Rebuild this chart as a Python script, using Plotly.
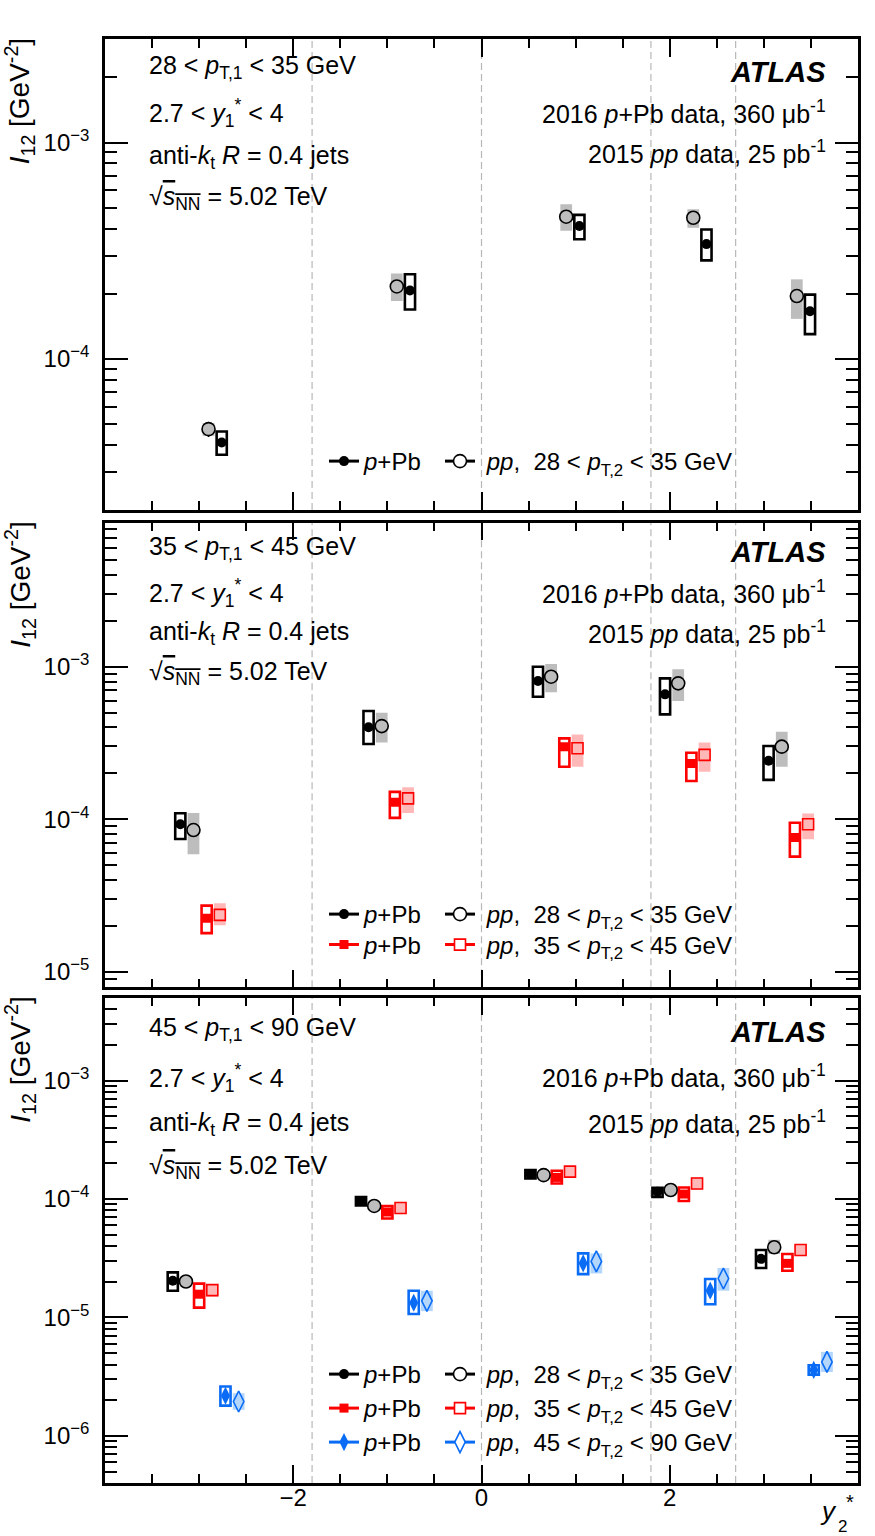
import math
import plotly.graph_objects as go
from plotly.subplots import make_subplots

FONT = "Liberation Sans"
W, H = 875, 1536

# ------------------------------------------------------------------ data
y2_bin_centres = [-2.9, -0.9, 0.9, 2.25, 3.35]
y2_bin_edges = [-1.8, 0.0, 1.8, 2.7]
pt1_lo = [28, 35, 45]
pt1_hi = [35, 45, 90]
pt2_lo = [28, 35, 45]
pt2_hi = [35, 45, 90]

# Panel 1 : 28 < pT,1 < 35 GeV
p1_ppb_28 = [4.10e-5, 2.07e-4, 4.11e-4, 3.39e-4, 1.66e-4]
p1_ppb_28_stat = [1.5e-6, 5e-6, 9e-6, 9e-6, 6e-6]
p1_ppb_28_syshi = [4.61e-5, 2.46e-4, 4.63e-4, 3.96e-4, 1.98e-4]
p1_ppb_28_syslo = [3.60e-5, 1.69e-4, 3.57e-4, 2.85e-4, 1.30e-4]
p1_pp_28 = [4.73e-5, 2.16e-4, 4.54e-4, 4.49e-4, 1.95e-4]
p1_pp_28_stat = [3.8e-6, 4e-6, 7e-6, 7e-6, 5e-6]
p1_pp_28_syshi = [5.05e-5, 2.48e-4, 5.18e-4, 4.91e-4, 2.33e-4]
p1_pp_28_syslo = [4.40e-5, 1.85e-4, 3.91e-4, 4.04e-4, 1.53e-4]

# Panel 2 : 35 < pT,1 < 45 GeV
p2_ppb_28 = [9.26e-5, 4.01e-4, 8.06e-4, 6.59e-4, 2.42e-4]
p2_ppb_28_stat = [4e-6, 1.2e-5, 2e-5, 2e-5, 1e-5]
p2_ppb_28_syshi = [1.094e-4, 5.12e-4, 1.00e-3, 8.39e-4, 3.02e-4]
p2_ppb_28_syslo = [7.41e-5, 3.11e-4, 6.36e-4, 4.87e-4, 1.81e-4]
p2_pp_28 = [8.49e-5, 4.08e-4, 8.60e-4, 7.78e-4, 2.99e-4]
p2_pp_28_stat = [3e-6, 1e-5, 1.5e-5, 1.5e-5, 8e-6]
p2_pp_28_syshi = [1.10e-4, 4.99e-4, 1.04e-3, 9.61e-4, 3.75e-4]
p2_pp_28_syslo = [5.89e-5, 3.19e-4, 6.79e-4, 5.96e-4, 2.21e-4]
p2_ppb_35 = [2.24e-5, 1.29e-4, 2.99e-4, 2.32e-4, 7.60e-5]
p2_ppb_35_stat = [1.2e-6, 5e-6, 1e-5, 1e-5, 4e-6]
p2_ppb_35_syshi = [2.71e-5, 1.51e-4, 3.39e-4, 2.73e-4, 9.48e-5]
p2_ppb_35_syslo = [1.79e-5, 1.02e-4, 2.21e-4, 1.78e-4, 5.68e-5]
p2_pp_35 = [2.36e-5, 1.37e-4, 2.92e-4, 2.64e-4, 9.26e-5]
p2_pp_35_stat = [1e-6, 4e-6, 8e-6, 8e-6, 3e-6]
p2_pp_35_syshi = [2.81e-5, 1.62e-4, 3.60e-4, 3.18e-4, 1.09e-4]
p2_pp_35_syslo = [2.02e-5, 1.10e-4, 2.21e-4, 2.05e-4, 7.38e-5]

# Panel 3 : 45 < pT,1 < 90 GeV
p3_ppb_28 = [2.04e-5, 9.61e-5, 1.62e-4, 1.15e-4, 3.12e-5]
p3_ppb_28_stat = [6e-7, 2e-6, 3e-6, 2.5e-6, 1e-6]
p3_ppb_28_syshi = [2.40e-5, 1.04e-4, 1.75e-4, 1.24e-4, 3.71e-5]
p3_ppb_28_syslo = [1.68e-5, 8.83e-5, 1.49e-4, 1.04e-4, 2.61e-5]
p3_pp_28 = [2.01e-5, 8.73e-5, 1.59e-4, 1.19e-4, 3.91e-5]
p3_pp_28_stat = [5e-7, 1.5e-6, 2.5e-6, 2e-6, 1e-6]
p3_pp_28_syshi = [2.15e-5, 9.20e-5, 1.66e-4, 1.25e-4, 4.52e-5]
p3_pp_28_syslo = [1.88e-5, 8.30e-5, 1.52e-4, 1.13e-4, 3.43e-5]
p3_ppb_35 = [1.57e-5, 7.76e-5, 1.52e-4, 1.10e-4, 2.86e-5]
p3_ppb_35_stat = [6e-7, 2e-6, 3e-6, 2.5e-6, 1e-6]
p3_ppb_35_syshi = [1.93e-5, 8.73e-5, 1.73e-4, 1.25e-4, 3.43e-5]
p3_ppb_35_syslo = [1.21e-5, 6.83e-5, 1.35e-4, 9.61e-5, 2.48e-5]
p3_pp_35 = [1.70e-5, 8.39e-5, 1.70e-4, 1.35e-4, 3.71e-5]
p3_pp_35_stat = [5e-7, 1.5e-6, 2.5e-6, 2e-6, 1e-6]
p3_pp_35_syshi = [1.91e-5, 9.31e-5, 1.87e-4, 1.52e-4, 4.12e-5]
p3_pp_35_syslo = [1.50e-5, 7.51e-5, 1.52e-4, 1.20e-4, 3.32e-5]
p3_ppb_45 = [2.18e-6, 1.33e-5, 2.86e-5, 1.68e-5, 3.60e-6]
p3_ppb_45_stat = [2.0e-7, 1.3e-6, 2.5e-6, 1.8e-6, 3.5e-7]
p3_ppb_45_syshi = [2.61e-6, 1.68e-5, 3.47e-5, 2.11e-5, 3.94e-6]
p3_ppb_45_syslo = [1.80e-6, 1.07e-5, 2.32e-5, 1.29e-5, 3.29e-6]
p3_pp_45 = [1.95e-6, 1.38e-5, 2.97e-5, 2.13e-5, 4.21e-6]
p3_pp_45_stat = [1.0e-7, 6e-7, 1e-6, 8e-7, 2e-7]
p3_pp_45_syshi = [2.29e-6, 1.68e-5, 3.47e-5, 2.61e-5, 5.12e-6]
p3_pp_45_syslo = [1.66e-6, 1.13e-5, 2.35e-5, 1.68e-5, 3.46e-6]

# ------------------------------------------------------------------ styling
COL = {28: "#000000", 35: "#ff0000", 45: "#0a6cf5"}
BOXFILL = {28: "#bdbdbd", 35: "#ffb8b8", 45: "#b4d6fa"}
SYM = {28: "circle", 35: "square", 45: "diamond-tall"}
SIZE_PPB = {28: 10, 35: 9, 45: 13}
SIZE_PP = {28: 13, 35: 11, 45: 15}

panels = [
    dict(series=[("pp", 28, p1_pp_28, p1_pp_28_stat, p1_pp_28_syslo, p1_pp_28_syshi, 0.0),
                 ("ppb", 28, p1_ppb_28, p1_ppb_28_stat, p1_ppb_28_syslo, p1_ppb_28_syshi, 0.14)],
         yrange=[2e-5, 3e-3], top=39.3, bottom=510.0,
         left_y=[66.7, 113.3, 156.7, 198.3], right_y=[71.7, 111.7, 152.0],
         leg_y=[462.5]),
    dict(series=[("ppb", 28, p2_ppb_28, p2_ppb_28_stat, p2_ppb_28_syslo, p2_ppb_28_syshi, -0.30),
                 ("pp", 28, p2_pp_28, p2_pp_28_stat, p2_pp_28_syslo, p2_pp_28_syshi, -0.16),
                 ("ppb", 35, p2_ppb_35, p2_ppb_35_stat, p2_ppb_35_syslo, p2_ppb_35_syshi, -0.02),
                 ("pp", 35, p2_pp_35, p2_pp_35_stat, p2_pp_35_syslo, p2_pp_35_syshi, 0.12)],
         yrange=[7.9e-6, 8.8e-3], top=522.7, bottom=987.3,
         left_y=[548.3, 593.3, 633.3, 673.3], right_y=[551.7, 591.7, 632.0],
         leg_y=[915.5, 946.0]),
    dict(series=[("ppb", 28, p3_ppb_28, p3_ppb_28_stat, p3_ppb_28_syslo, p3_ppb_28_syshi, -0.38),
                 ("pp", 28, p3_pp_28, p3_pp_28_stat, p3_pp_28_syslo, p3_pp_28_syshi, -0.24),
                 ("ppb", 35, p3_ppb_35, p3_ppb_35_stat, p3_ppb_35_syslo, p3_ppb_35_syshi, -0.10),
                 ("pp", 35, p3_pp_35, p3_pp_35_stat, p3_pp_35_syslo, p3_pp_35_syshi, 0.04),
                 ("ppb", 45, p3_ppb_45, p3_ppb_45_stat, p3_ppb_45_syslo, p3_ppb_45_syshi, 0.18),
                 ("pp", 45, p3_pp_45, p3_pp_45_stat, p3_pp_45_syslo, p3_pp_45_syshi, 0.32)],
         yrange=[4e-7, 5e-3], top=997.7, bottom=1483.0,
         left_y=[1028.5, 1077.5, 1124.0, 1166.8], right_y=[1032.0, 1075.8, 1122.0],
         leg_y=[1375.5, 1409.5, 1443.5]),
]

X_L, X_R = 105.0, 858.0


def px_x(px):
    return px / W


def px_y(py):
    return 1.0 - py / H


fig = make_subplots(rows=3, cols=1, shared_xaxes=False)

annotations = []
shapes = []
legend_layouts = {}
leg_count = 0

for pi, pan in enumerate(panels):
    row = pi + 1
    # systematic boxes
    for kind, pt, y, stat, lo, hi, off in pan["series"]:
        xs = [c + off for c in y2_bin_centres]
        heights = [h - l for h, l in zip(hi, lo)]
        if kind == "pp":
            fig.add_trace(go.Bar(x=xs, y=heights, base=lo, width=0.125,
                                 marker=dict(color=BOXFILL[pt], line=dict(width=0)),
                                 showlegend=False, hoverinfo="skip"), row=row, col=1)
        else:
            fig.add_trace(go.Bar(x=xs, y=heights, base=lo, width=0.108,
                                 marker=dict(color="rgba(255,255,255,0)",
                                             line=dict(width=2.6, color=COL[pt])),
                                 showlegend=False, hoverinfo="skip"), row=row, col=1)
    # markers + stat errors
    for kind, pt, y, stat, lo, hi, off in pan["series"]:
        xs = [c + off for c in y2_bin_centres]
        if kind == "pp":
            mk = dict(symbol=SYM[pt], size=SIZE_PP[pt], color=BOXFILL[pt],
                      line=dict(width=1.6, color=COL[pt]))
        else:
            mk = dict(symbol=SYM[pt], size=SIZE_PPB[pt], color=COL[pt], line=dict(width=0))
        fig.add_trace(go.Scatter(x=xs, y=y, mode="markers", marker=mk,
                                 error_y=dict(type="data", array=stat, arrayminus=stat,
                                              width=0, thickness=1.6, color=COL[pt]),
                                 showlegend=False, hoverinfo="skip"), row=row, col=1)

    # legend: one horizontal legend per row (p+Pb entry, pp entry)
    bins_here = sorted({s[1] for s in pan["series"]})
    for k, pt in enumerate(bins_here):
        leg_count += 1
        lname = "legend" if leg_count == 1 else f"legend{leg_count}"
        j = pt2_lo.index(pt)
        fig.add_trace(go.Scatter(x=[None], y=[None], mode="lines+markers",
                                 name="<i>p</i>+Pb", legend=lname, legendwidth=71,
                                 line=dict(color=COL[pt], width=3),
                                 marker=dict(symbol=SYM[pt], size=SIZE_PPB[pt], color=COL[pt])),
                      row=row, col=1)
        fig.add_trace(go.Scatter(x=[None], y=[None], mode="lines+markers",
                                 name=f" <i>pp</i>,  {pt2_lo[j]} < <i>p</i><sub>T,2</sub> < {pt2_hi[j]} GeV",
                                 legend=lname, legendwidth=290,
                                 line=dict(color=COL[pt], width=3),
                                 marker=dict(symbol=SYM[pt], size=SIZE_PP[pt], color="white",
                                             line=dict(width=1.6, color=COL[pt]))),
                      row=row, col=1)
        legend_layouts[lname] = dict(x=px_x(324), y=px_y(pan["leg_y"][k] - 23.5), xanchor="left",
                                     yanchor="top", orientation="h",
                                     bgcolor="rgba(0,0,0,0)",
                                     borderwidth=0, itemsizing="trace",
                                     font=dict(family=FONT, size=24, color="black"))

    # bin-edge dashed lines
    yref = "y domain" if row == 1 else f"y{row} domain"
    xref = "x" if row == 1 else f"x{row}"
    for e in y2_bin_edges:
        shapes.append(dict(type="line", xref=xref, yref=yref, x0=e, x1=e, y0=0, y1=1,
                           line=dict(color="#b8b8b8", width=1.2, dash="7px,4px"), layer="below"))

    # text
    left_txt = [f"{pt1_lo[pi]} < <i>p</i><sub>T,1</sub> < {pt1_hi[pi]} GeV",
                "2.7 < <i>y</i><sub>1</sub><sup>*</sup> < 4",
                "anti-<i>k</i><sub>t</sub> <i>R</i> = 0.4 jets",
                "√<span style='text-decoration:overline'><i>s</i><sub>NN</sub></span> = 5.02 TeV"]
    for t, yy in zip(left_txt, pan["left_y"]):
        annotations.append(dict(text=t, x=px_x(147), y=px_y(yy), xref="paper", yref="paper",
                                xanchor="left", yanchor="middle", showarrow=False,
                                font=dict(family=FONT, size=25, color="black")))
    right_txt = ["<b><i>ATLAS</i></b>",
                 "2016 <i>p</i>+Pb data, 360 μb<sup>-1</sup>",
                 "2015 <i>pp</i> data, 25 pb<sup>-1</sup>"]
    for k, (t, yy) in enumerate(zip(right_txt, pan["right_y"])):
        annotations.append(dict(text=t, x=px_x(828), y=px_y(yy), xref="paper", yref="paper",
                                xanchor="right", yanchor="middle", showarrow=False,
                                font=dict(family=FONT, size=29 if k == 0 else 25, color="black")))
    # y title
    annotations.append(dict(text="<i>I</i><sub>12</sub> [GeV<sup>-2</sup>]", textangle=-90,
                            x=px_x(20), y=px_y(pan["top"] + 62), xref="paper", yref="paper",
                            xanchor="center", yanchor="middle", showarrow=False,
                            font=dict(family=FONT, size=28, color="black")))

# x title (y2*), stacked super/subscript as in the original
annotations.append(dict(text="<i>y</i>", x=px_x(828), y=px_y(1494), xref="paper", yref="paper",
                        xanchor="center", yanchor="top",
                        showarrow=False, font=dict(family=FONT, size=26, color="black")))
annotations.append(dict(text="*", x=px_x(850), y=px_y(1489), xref="paper", yref="paper",
                        xanchor="center", yanchor="top",
                        showarrow=False, font=dict(family=FONT, size=20, color="black")))
annotations.append(dict(text="2", x=px_x(842), y=px_y(1515), xref="paper", yref="paper",
                        xanchor="center", yanchor="top",
                        showarrow=False, font=dict(family=FONT, size=17, color="black")))

# ------------------------------------------------------------------ axes
decades = [10.0 ** e for e in range(-7, -1)]
dec_text = [f"10<sup>−{-e}</sup>" for e in range(-7, -1)]
minor_vals = [k * 10.0 ** e for e in range(-7, -1) for k in range(2, 10)]

for pi, pan in enumerate(panels):
    row = pi + 1
    sfx = "" if row == 1 else str(row)
    fig.layout[f"yaxis{sfx}"].update(
        type="log", range=[math.log10(pan["yrange"][0]), math.log10(pan["yrange"][1])],
        domain=[px_y(pan["bottom"]), px_y(pan["top"])],
        tickmode="array", tickvals=decades, ticktext=dec_text,
        ticks="inside", ticklen=23, tickwidth=1.5, tickcolor="black",
        minor=dict(tickmode="array", tickvals=minor_vals, ticks="inside", ticklen=12,
                   tickwidth=1.5, tickcolor="black", showgrid=False),
        showline=True, linewidth=2.5, linecolor="black", mirror="ticks",
        showgrid=False, zeroline=False, ticklabelstandoff=8,
        tickfont=dict(family=FONT, size=24, color="black"), automargin=False)
    fig.layout[f"xaxis{sfx}"].update(
        range=[-4, 4], domain=[px_x(X_L), px_x(X_R)],
        tickmode="array", tickvals=[-2, 0, 2],
        ticks="inside", ticklen=18, tickwidth=1.5, tickcolor="black",
        minor=dict(tickmode="linear", tick0=0, dtick=0.5, ticks="inside", ticklen=9,
                   tickwidth=1.5, tickcolor="black", showgrid=False),
        showline=True, linewidth=2.5, linecolor="black", mirror="ticks",
        showgrid=False, zeroline=False, showticklabels=(row == 3), ticklabelstandoff=-9,
        tickfont=dict(family=FONT, size=24, color="black"), automargin=False)

fig.update_layout(width=W, height=H, margin=dict(l=0, r=0, t=0, b=0),
                  paper_bgcolor="white", plot_bgcolor="white", barmode="overlay",
                  annotations=annotations, shapes=shapes,
                  font=dict(family=FONT, size=24, color="black"))
fig.update_layout(**legend_layouts)

fig.write_html("out.html")
